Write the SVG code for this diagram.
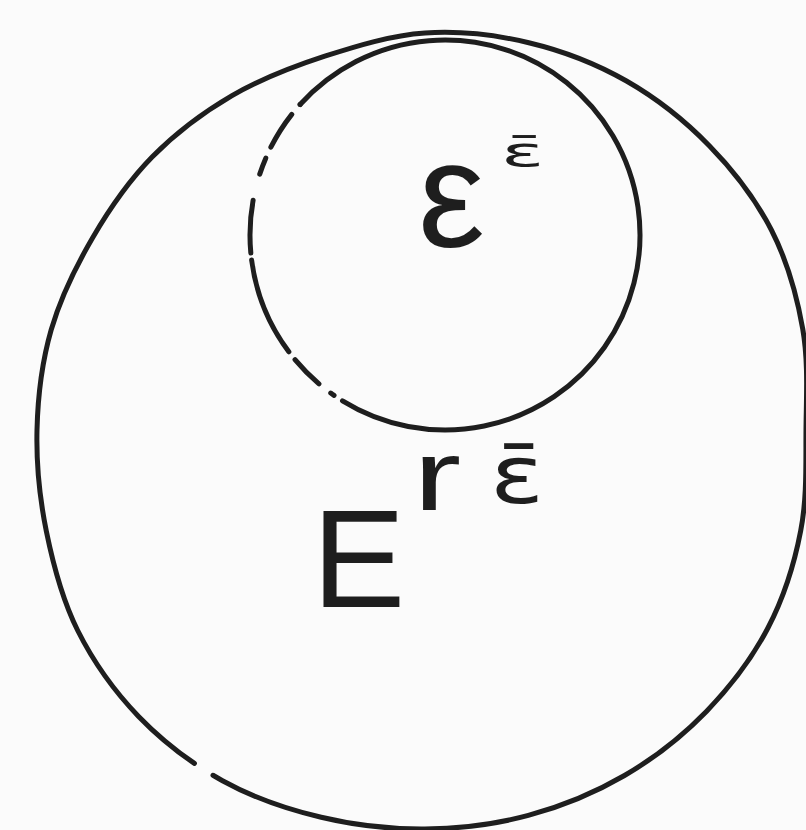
<svg xmlns="http://www.w3.org/2000/svg" width="806" height="830" viewBox="0 0 806 830">
<style>
.ln{fill:none;stroke:#1e1e1e;stroke-width:5;stroke-linecap:round}
.lbl{font-family:"Liberation Sans","DejaVu Sans",sans-serif;fill:#1e1e1e}
.sup{font-family:"DejaVu Sans","Liberation Sans",sans-serif}
</style>
<rect width="806" height="830" fill="#fbfbfb"/>
<g id="outer-set">
<path class="ln" stroke-dasharray="11 22 3000" d="M222.5,780.7 C192.1,763.9 162.7,741.4 138.6,716.4 C114.5,691.4 93.1,661.3 77.7,630.5 C62.3,599.7 53.2,564.9 46.4,531.5 C39.6,498.1 36.2,463.6 37,430 C37.8,396.4 42,361.8 51.2,329.8 C60.5,297.8 75.7,266.8 92.5,238 C109.3,209.2 128.9,180.8 152.1,157.1 C175.4,133.4 203.2,112.5 232,95.7 C260.8,78.9 292.6,66.7 324.8,56.2 C357,45.8 391,35.3 425,33 C459,30.8 495.2,34.7 528.8,42.7 C562.4,50.7 596.4,63.8 626.5,81 C656.6,98.2 685.2,120.9 709.3,145.7 C733.5,170.5 755.8,199.5 771.4,230 C787,260.5 796.9,295.5 802.7,328.8 C808.5,362.1 806.3,396.4 806,430 C805.7,463.7 807.1,497.7 800.7,530.7 C794.4,563.7 783.6,597.9 767.9,628 C752.2,658.1 730.3,686.8 706.4,711.4 C682.5,736 654.2,758.2 624.5,775.5 C594.8,792.8 561.6,806.5 528.3,815.4 C495.1,824.3 459.5,828.7 425,829 C390.5,829.3 355,825.4 321.2,817.3 C287.5,809.3 252.9,797.5 222.5,780.7"/>
<text class="lbl" x="312" y="607" font-size="140">E</text>
<text class="lbl" transform="translate(413,510) scale(1.45,1)" font-size="100">r</text>
<text class="lbl sup" transform="translate(490,503) scale(1.25,1)" font-size="80">ε̄</text>
</g>
<g id="inner-set">
<path class="ln" d="M342.5,400.9 A195,195 0 1 0 300.1,104.5"/>
<path class="ln" d="M300.1,104.5 A195,195 0 0 0 342.5,400.9" stroke-linecap="butt" stroke-dasharray="0 13 39 12 17 27 53 7 100 10 34 15 4 15"/>
<text class="lbl" x="418" y="247" font-size="150">ε</text>
<text class="lbl sup" transform="translate(501,166) scale(2,1)" font-size="40">ε̄</text>
</g>
</svg>
